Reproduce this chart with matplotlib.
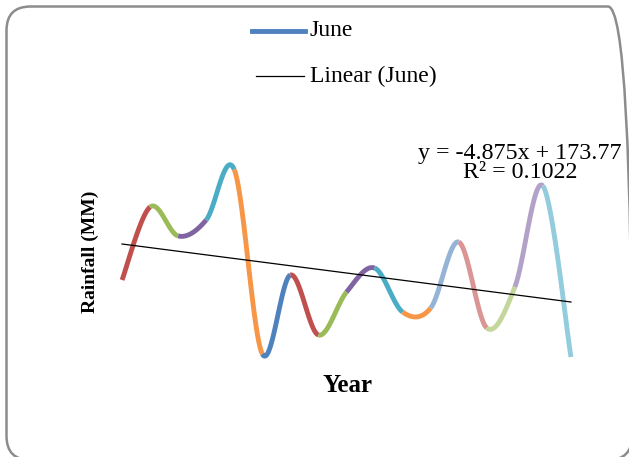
import numpy as np
import matplotlib.pyplot as plt
from matplotlib.patches import FancyBboxPatch
from matplotlib.lines import Line2D
from matplotlib.transforms import IdentityTransform

# June rainfall per year
years = np.arange(1, 18)
rain = [120.5, 218.7, 179.7, 201.2, 269.0, 21.0, 127.2, 46.5, 104.3,
        136.6, 77.4, 82.8, 171.6, 55.9, 111.1, 247.0, 16.9]
slope, icept, r2 = -4.875, 173.77, 0.1022

point_colors = ['#4F81BD', '#C0504D', '#9BBB59', '#8064A2', '#4BACC6', '#F79646',
                '#4F81BD', '#C0504D', '#9BBB59', '#8064A2', '#4BACC6', '#F79646',
                '#95B3D7', '#D99694', '#C3D69B', '#B3A2C7', '#93CDDD']

serif = ['Liberation Serif', 'DejaVu Serif']

W, H = 629, 457
fig = plt.figure(figsize=(W / 100, H / 100), dpi=100)

# rounded chart frame (pixel coords, origin bottom-left)
frame = FancyBboxPatch((6.5, -3), 632 - 6.5, 450.5 + 3,
                       boxstyle='round,pad=0,rounding_size=24',
                       transform=IdentityTransform(), fc='none', ec='#8c8c8c', lw=1.8,
                       clip_on=False, zorder=-1)
fig.patches.append(frame)

ax = fig.add_axes([108 / W, 1 - 369.6 / H, 477 / W, (369.6 - 146.5) / H])
ax.set_xlim(0.5, 17.5)
ax.set_ylim(0, 300)
ax.axis('off')


def catmull(p0, p1, p2, p3, n=40):
    t = np.linspace(0, 1, n)[:, None]
    c1 = p1 + (p2 - p0) / 6
    c2 = p2 - (p3 - p1) / 6
    return ((1 - t) ** 3) * p1 + 3 * ((1 - t) ** 2) * t * c1 + 3 * (1 - t) * t ** 2 * c2 + t ** 3 * p2


pts = np.column_stack([years, rain]).astype(float)
ext = np.vstack([pts[0], pts, pts[-1]])
for i in range(len(pts) - 1):
    seg = catmull(ext[i], ext[i + 1], ext[i + 2], ext[i + 3])
    ax.plot(seg[:, 0], seg[:, 1], color=point_colors[i + 1], lw=3.5,
            solid_capstyle='butt')

trend = slope * years + icept
ax.plot([years[0], years[-1]], [trend[0], trend[-1]], color='black', lw=0.9)

fig.text(520 / W, 1 - 153 / H, 'y = -4.875x + 173.77', family=serif, fontsize=17.3,
         ha='center', va='center')
fig.text(520 / W, 1 - 172 / H, 'R² = 0.1022', family=serif, fontsize=17.3,
         ha='center', va='center')

fig.text(90 / W, 1 - 252 / H, 'Rainfall (MM)', family=serif, fontsize=14,
         fontweight='bold', rotation=90, ha='center', va='center')
fig.text(347 / W, 1 - 385 / H, 'Year', family=serif, fontsize=18,
         fontweight='bold', ha='center', va='center')

# legend
fig.add_artist(Line2D([252 / W, 305 / W], [1 - 31 / H, 1 - 31 / H], color='#4F81BD', lw=3.5))
fig.text(310 / W, 1 - 30 / H, 'June', family=serif, fontsize=17, ha='left', va='center')
fig.add_artist(Line2D([256 / W, 304 / W], [1 - 76 / H, 1 - 76 / H], color='black', lw=0.9))
fig.text(310 / W, 1 - 76 / H, 'Linear (June)', family=serif, fontsize=17, ha='left', va='center')

fig.savefig('out.png', dpi=100)
